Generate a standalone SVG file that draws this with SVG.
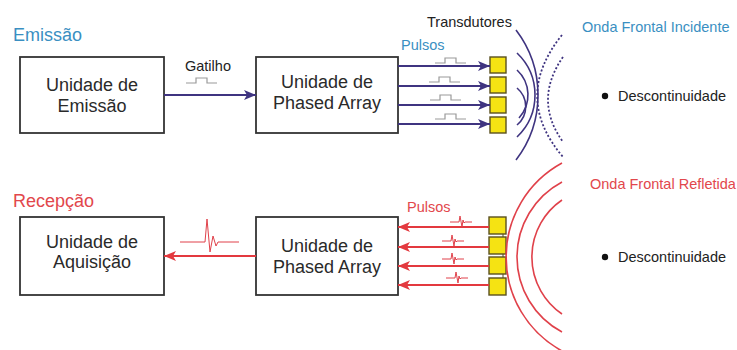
<svg xmlns="http://www.w3.org/2000/svg" xmlns:xlink="http://www.w3.org/1999/xlink" width="737" height="350" viewBox="0 0 737 350">
<style>
text{font-family:"Liberation Sans",Arial,sans-serif;}
.box{fill:#fff;stroke:#333;stroke-width:1.8;}
.bt{font-size:18px;fill:#2a2a2a;text-anchor:middle;}
.lbl{font-size:14.5px;fill:#222;}
.blue{fill:#3a8fc2;}
.red{fill:#e2474c;}
.pl{stroke:#3f3480;stroke-width:2;fill:none;}
.rl{stroke:#e3393f;stroke-width:2;fill:none;}
.pw{stroke:#3f3480;stroke-width:1.6;fill:none;}
.pd{stroke:#3f3480;stroke-width:1.8;fill:none;stroke-dasharray:2 2;}
.rw{stroke:#e0414a;stroke-width:1.6;fill:none;}
.pulse{stroke:#9a9a9a;stroke-width:1.2;fill:none;}
.spk{stroke:#e0414a;stroke-width:1;fill:none;}
.tr{fill:#f5e313;stroke:#5a5020;stroke-width:1.4;}
</style>
<defs>
<marker id="ap" markerUnits="userSpaceOnUse" markerWidth="13" markerHeight="11" refX="12" refY="5" orient="auto"><path d="M0,0 L12,5 L0,10 L3,5 Z" fill="#3f3480"/></marker>
<marker id="ar" markerUnits="userSpaceOnUse" markerWidth="13" markerHeight="11" refX="12" refY="5" orient="auto"><path d="M0,0 L12,5 L0,10 L3,5 Z" fill="#e3393f"/></marker>
<path id="sq" d="M0,5 L10,5 L10,0 L21,0 L21,5 L31,5"/>
<path id="sp" d="M-11,0 L-2,0 L-1,-6 L1,5 L2,-2 L3,1 L4,0 L11,0"/>
</defs>

<g id="section-labels">
<text x="13" y="41" font-size="18" class="blue">Emissão</text>
<text x="13" y="207" font-size="18" class="red">Recepção</text>
</g>

<g id="unidade-emissao">
<rect class="box" x="20" y="57" width="144" height="76"/>
<text class="bt" x="92" y="91">Unidade de</text>
<text class="bt" x="92" y="112">Emissão</text>
</g>
<g id="phased-array-emissao">
<rect class="box" x="256" y="57" width="142" height="76"/>
<text class="bt" x="327" y="88">Unidade de</text>
<text class="bt" x="327" y="109">Phased Array</text>
</g>
<g id="unidade-aquisicao">
<rect class="box" x="20" y="217" width="144" height="78"/>
<text class="bt" x="92" y="248">Unidade de</text>
<text class="bt" x="92" y="268">Aquisição</text>
</g>
<g id="phased-array-recepcao">
<rect class="box" x="256" y="217" width="142" height="78"/>
<text class="bt" x="327" y="252">Unidade de</text>
<text class="bt" x="327" y="273">Phased Array</text>
</g>

<g id="transdutores-emissao">
<rect class="tr" x="490" y="57" width="16" height="16"/>
<rect class="tr" x="490" y="77" width="16" height="16"/>
<rect class="tr" x="490" y="97" width="16" height="16"/>
<rect class="tr" x="490" y="117" width="16" height="16"/>
</g>
<g id="transdutores-recepcao">
<line x1="503" y1="233" x2="503" y2="238" stroke="#5a5020" stroke-width="1"/>
<line x1="503" y1="253" x2="503" y2="258" stroke="#5a5020" stroke-width="1"/>
<line x1="503" y1="273" x2="503" y2="278" stroke="#5a5020" stroke-width="1"/>
<rect class="tr" x="489" y="217" width="17" height="17"/>
<rect class="tr" x="489" y="237" width="17" height="17"/>
<rect class="tr" x="489" y="257" width="17" height="17"/>
<rect class="tr" x="489" y="278" width="17" height="17"/>
</g>

<g id="connectors">
<line class="pl" x1="164" y1="95" x2="256" y2="95" marker-end="url(#ap)"/>
<line class="pl" x1="398" y1="66" x2="490" y2="66" marker-end="url(#ap)"/>
<line class="pl" x1="398" y1="86" x2="490" y2="86" marker-end="url(#ap)"/>
<line class="pl" x1="398" y1="105" x2="490" y2="105" marker-end="url(#ap)"/>
<line class="pl" x1="398" y1="124" x2="490" y2="124" marker-end="url(#ap)"/>
<line class="rl" x1="256" y1="256" x2="164" y2="256" marker-end="url(#ar)"/>
<line class="rl" x1="489" y1="227" x2="398" y2="227" marker-end="url(#ar)"/>
<line class="rl" x1="489" y1="247" x2="398" y2="247" marker-end="url(#ar)"/>
<line class="rl" x1="489" y1="266" x2="398" y2="266" marker-end="url(#ar)"/>
<line class="rl" x1="489" y1="285" x2="398" y2="285" marker-end="url(#ar)"/>
</g>

<g id="signals">
<text class="lbl" x="185" y="71">Gatilho</text>
<use href="#sq" xlink:href="#sq" class="pulse" x="186" y="78"/>
<text class="lbl blue" x="401" y="50">Pulsos</text>
<use href="#sq" xlink:href="#sq" class="pulse" x="435" y="58"/>
<use href="#sq" xlink:href="#sq" class="pulse" x="429" y="77"/>
<use href="#sq" xlink:href="#sq" class="pulse" x="430" y="95"/>
<use href="#sq" xlink:href="#sq" class="pulse" x="435" y="114"/>
<path class="spk" d="M180,242 L205,242 L207,219 L210,252 L213,236 L216,246 L218,242 L239,242"/>
<text class="lbl red" x="407" y="212">Pulsos</text>
<use href="#sp" xlink:href="#sp" class="spk" x="461" y="222"/>
<use href="#sp" xlink:href="#sp" class="spk" x="453" y="241"/>
<use href="#sp" xlink:href="#sp" class="spk" x="453" y="259"/>
<use href="#sp" xlink:href="#sp" class="spk" x="457" y="278"/>
</g>

<g id="onda-incidente">
<text class="lbl" x="427" y="27">Transdutores</text>
<path class="pw" d="M516,30 A107,107 0 0 1 516,160"/>
<path class="pw" d="M517,53 A58,58 0 0 1 517,137"/>
<path class="pw" d="M517,70 A34,34 0 0 1 519,118"/>
<path class="pw" d="M517,88 A24,24 0 0 1 517,125"/>
<path class="pd" d="M562,35 Q512,97 563,157"/>
<path class="pd" d="M563,57 Q533,100 563,142"/>
<text class="lbl blue" x="582" y="32">Onda Frontal Incidente</text>
<circle cx="605" cy="96" r="3.2" fill="#111"/>
<text class="lbl" x="618" y="101">Descontinuidade</text>
</g>

<g id="onda-refletida">
<path class="rw" d="M562,163 A107,107 0 0 0 562,351"/>
<path class="rw" d="M562,182 A85,85 0 0 0 562,332"/>
<path class="rw" d="M562,200 A69,69 0 0 0 562,314"/>
<text class="lbl red" x="590" y="189">Onda Frontal Refletida</text>
<circle cx="605" cy="257" r="3.2" fill="#111"/>
<text class="lbl" x="618" y="262">Descontinuidade</text>
</g>
</svg>
